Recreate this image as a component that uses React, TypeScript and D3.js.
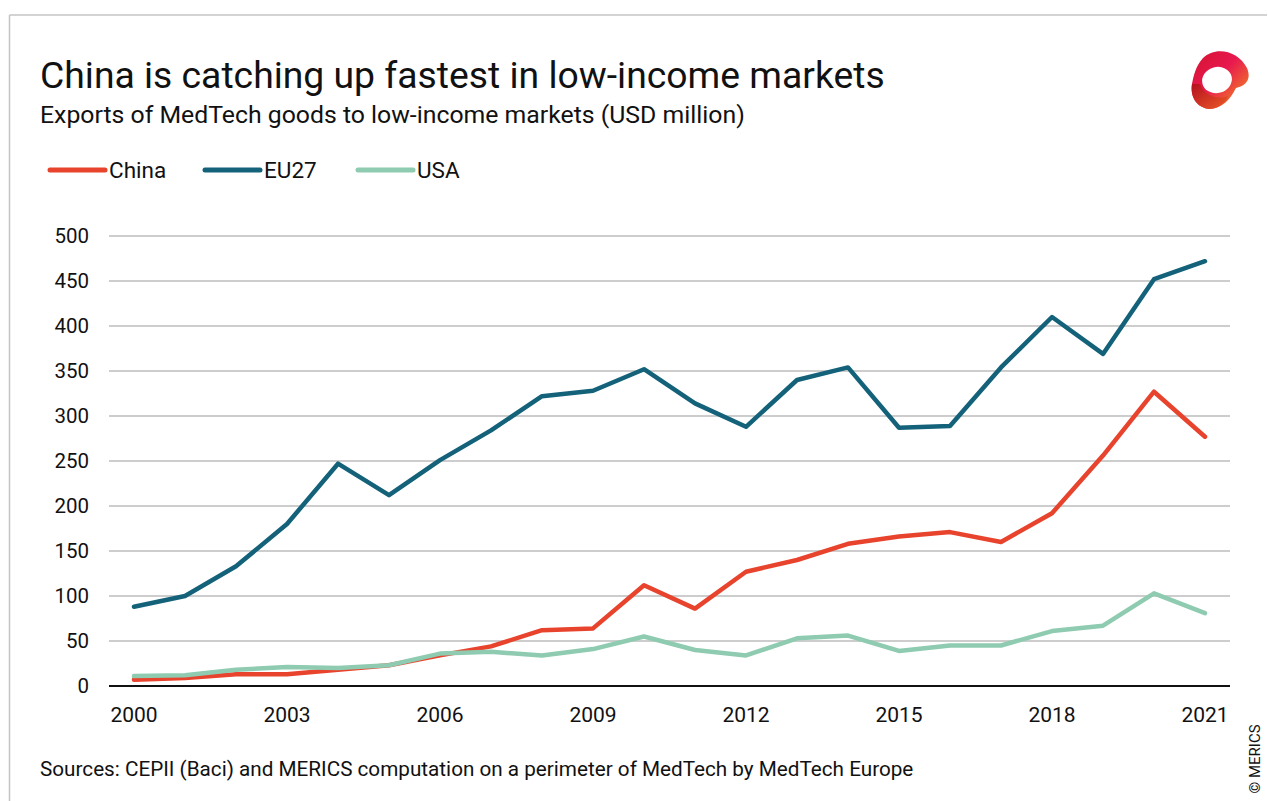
import React from "react";
import * as d3 from "d3";

const years = d3.range(2000, 2022);
const china = [7, 9, 13, 13, 18, 23, 34, 44, 62, 64, 112, 86, 127, 140, 158, 166, 171, 160, 192, 256, 327, 277];
const eu27 = [88, 100, 133, 180, 247, 212, 251, 284, 322, 328, 352, 314, 288, 340, 354, 287, 289, 354, 410, 369, 452, 472];
const usa = [11, 12, 18, 21, 20, 23, 36, 38, 34, 41, 55, 40, 34, 53, 56, 39, 45, 45, 61, 67, 103, 81];
const yTicks = [0, 50, 100, 150, 200, 250, 300, 350, 400, 450, 500];
const xTicks = [2000, 2003, 2006, 2009, 2012, 2015, 2018, 2021];

const seriesList = [
  { name: "China", values: china, color: "#e8432d" },
  { name: "EU27", values: eu27, color: "#14627a" },
  { name: "USA", values: usa, color: "#8ecbb0" },
];

const FONT = "Roboto, 'Open Sans', sans-serif";

export default function App() {
  const W = 1268, H = 801;
  const x = d3.scaleLinear().domain([2000, 2021]).range([134, 1205]);
  const y = d3.scaleLinear().domain([0, 500]).range([686, 236]);
  const line = d3.line<number>().x((_, i) => x(years[i])).y((d) => y(d));
  const legendX = [50, 205, 358];

  return (
    <svg width={W} height={H} style={{ position: "absolute", left: 0, top: 0, background: "#fff" }} fontFamily={FONT}>
      <defs>
        <linearGradient id="lg1" x1="0" y1="0" x2="1" y2="1">
          <stop offset="0" stopColor="#d3132f" />
          <stop offset="0.45" stopColor="#e8194f" />
          <stop offset="1" stopColor="#f39a1a" />
        </linearGradient>
        <linearGradient id="lg2" x1="0" y1="0" x2="1" y2="1">
          <stop offset="0" stopColor="#b4101f" />
          <stop offset="1" stopColor="#ec5a26" />
        </linearGradient>
      </defs>
      <rect width={W} height={H} fill="#fff" />
      <line x1={9.5} y1={15} x2={9.5} y2={H} stroke="#c4c4c4" strokeWidth={1.5} />
      <line x1={9.5} y1={15} x2={1267} y2={15} stroke="#c4c4c4" strokeWidth={1.5} />

      <text x={40} y={88} fontSize={37.3} fill="#111">China is catching up fastest in low-income markets</text>
      <text x={40} y={123} fontSize={24.8} fill="#111">Exports of MedTech goods to low-income markets (USD million)</text>

      {/* logo */}
      <g>
        <path d="M1203,58 C1215,46 1238,50 1247,68 C1252,80 1245,86 1236,88 C1230,100 1222,108 1210,109 C1196,108 1190,96 1192,84 C1194,74 1196,66 1203,58 Z" fill="url(#lg1)" />
        <path d="M1192,84 C1190,96 1196,108 1210,109 C1220,108 1226,102 1228,96 C1218,100 1204,96 1200,84 Z" fill="url(#lg2)" />
        <ellipse cx={1217} cy={80} rx={15} ry={13} fill="#fff" transform="rotate(-15 1217 80)" />
      </g>

      {/* legend */}
      {seriesList.map((s, i) => (
        <g key={s.name}>
          <line x1={legendX[i]} x2={legendX[i] + 55} y1={170} y2={170} stroke={s.color} strokeWidth={5} strokeLinecap="round" />
          <text x={legendX[i] + 59} y={178} fontSize={22.5} fill="#111">{s.name}</text>
        </g>
      ))}

      {/* grid */}
      {yTicks.map((t) => (
        <g key={t}>
          {t !== 0 && <line x1={109} x2={1230} y1={y(t)} y2={y(t)} stroke="#bdbdbd" strokeWidth={1.5} />}
          <text x={89} y={y(t) + 7} fontSize={20.5} textAnchor="end" fill="#111">{t}</text>
        </g>
      ))}
      {xTicks.map((t) => (
        <text key={t} x={x(t)} y={722} fontSize={21} textAnchor="middle" fill="#111">{t}</text>
      ))}

      {seriesList.map((s) => (
        <path key={s.name} d={line(s.values) || ""} fill="none" stroke={s.color} strokeWidth={4.5} strokeLinejoin="round" strokeLinecap="round" />
      ))}
      <line x1={109} x2={1230} y1={y(0)} y2={y(0)} stroke="#111" strokeWidth={2.2} />

      <text x={40} y={776} fontSize={20.7} fill="#111">Sources: CEPII (Baci) and MERICS computation on a perimeter of MedTech by MedTech Europe</text>
      <text transform="translate(1260,759) rotate(-90)" fontSize={15} textAnchor="middle" fill="#111">© MERICS</text>
    </svg>
  );
}
